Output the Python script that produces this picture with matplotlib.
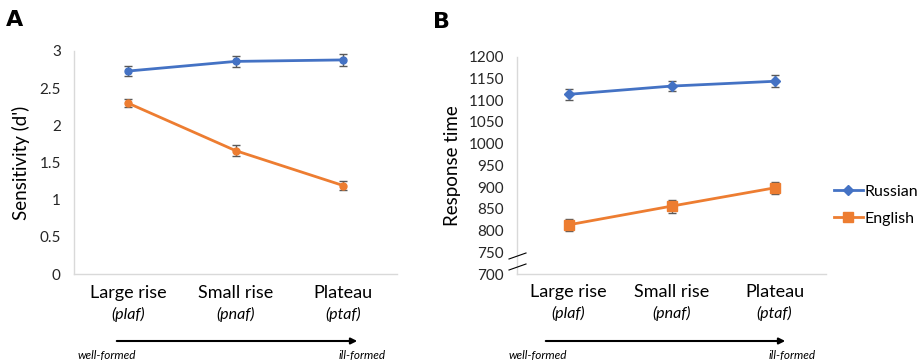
import matplotlib
matplotlib.use("Agg")
import matplotlib.pyplot as plt
from matplotlib.lines import Line2D
import numpy as np

plt.rcParams['font.family'] = ['Lato', 'DejaVu Sans']

categories = ["Large rise", "Small rise", "Plateau"]
subcats = ["(plaf)", "(pnaf)", "(ptaf)"]
series = ["Russian", "English"]

# Panel A: sensitivity d'
sens_russian = [2.73, 2.86, 2.88]
sens_russian_err = [0.07, 0.07, 0.08]
sens_english = [2.30, 1.66, 1.19]
sens_english_err = [0.06, 0.07, 0.06]

# Panel B: response time
rt_russian = [1113, 1132, 1143]
rt_russian_err = [13, 12, 14]
rt_english = [813, 856, 898]
rt_english_err = [13, 15, 13]

a_ticks = [0, 0.5, 1, 1.5, 2, 2.5, 3]
a_ticklabels = ["0", "0.5", "1", "1.5", "2", "2.5", "3"]
b_ticks = list(range(700, 1201, 50))

BLUE = "#4472C4"
ORANGE = "#ED7D31"
GRID = "#D9D9D9"
TXT = "#262626"
ERR = "#595959"

W, H = 917, 363
fig = plt.figure(figsize=(W / 100, H / 100), dpi=100)

def fx(px):
    return px / W

def fy(py):
    return 1 - py / H

axA = fig.add_axes([fx(74), fy(274), fx(397 - 74), (274 - 51) / H])
axB = fig.add_axes([fx(517), fy(274), fx(826 - 517), (274 - 56.5) / H])

x = np.arange(len(categories))

def style(ax):
    for s in ["top", "right"]:
        ax.spines[s].set_visible(False)
    for s in ["left", "bottom"]:
        ax.spines[s].set_color(GRID)
        ax.spines[s].set_linewidth(1.0)
    ax.tick_params(axis="both", length=0, colors=TXT)
    ax.set_xlim(-0.5, len(categories) - 0.5)
    ax.set_xticks(x)
    ax.set_xticklabels([])
    for i, (c, s) in enumerate(zip(categories, subcats)):
        ax.text(i, -0.085, c, transform=ax.get_xaxis_transform(), ha="center",
                va="center", fontsize=13, color="#000000")
        ax.text(i, -0.18, s, transform=ax.get_xaxis_transform(), ha="center",
                va="center", fontsize=11.5, style="italic", color="#000000")

# Panel A
style(axA)
axA.errorbar(x, sens_russian, yerr=sens_russian_err, color=BLUE, lw=2, marker="o",
             ms=5, ecolor=ERR, elinewidth=1, capsize=3, capthick=1, label=series[0])
axA.errorbar(x, sens_english, yerr=sens_english_err, color=ORANGE, lw=2, marker="o",
             ms=5, ecolor=ERR, elinewidth=1, capsize=3, capthick=1, label=series[1])
axA.set_ylim(0, 3)
axA.set_yticks(a_ticks)
axA.set_yticklabels(a_ticklabels, fontsize=11)
axA.tick_params(axis="y", pad=9.5)
axA.set_ylabel("Sensitivity (d')", fontsize=13.5, color="#000000", labelpad=7)

# Panel B
style(axB)
axB.errorbar(x, rt_russian, yerr=rt_russian_err, color=BLUE, lw=2, marker="D",
             ms=5.5, ecolor=ERR, elinewidth=1, capsize=3, capthick=1, label=series[0])
axB.errorbar(x, rt_english, yerr=rt_english_err, color=ORANGE, lw=2, marker="s",
             ms=7, ecolor=ERR, elinewidth=1, capsize=3, capthick=1, label=series[1])
axB.set_ylim(700, 1200)
axB.set_yticks(b_ticks)
axB.set_yticklabels([str(t) for t in b_ticks], fontsize=11)
axB.tick_params(axis="y", pad=9.5)
axB.set_ylabel("Response time", fontsize=13.5, color="#000000", labelpad=5.5)

# axis break marks
for y0, y1 in [(259, 253), (270, 264)]:
    fig.add_artist(Line2D([fx(509), fx(526)], [fy(y0), fy(y1)], color="#000000", lw=0.8))

handles = [Line2D([], [], color=BLUE, lw=2, marker="D", ms=5.5),
           Line2D([], [], color=ORANGE, lw=2, marker="s", ms=7)]
leg = fig.legend(handles=handles, labels=series, loc="center left",
                 bbox_to_anchor=(fx(834), fy(205)), frameon=False, fontsize=11.5,
                 handlelength=1.8, handletextpad=0.1, labelspacing=0.8,
                 borderpad=0, borderaxespad=0)

# panel letters
fig.text(fx(6), fy(20), "A", fontsize=16, fontweight="bold", va="center", ha="left",
         family="DejaVu Sans")
fig.text(fx(433), fy(22), "B", fontsize=16, fontweight="bold", va="center", ha="left",
         family="DejaVu Sans")

# arrows and annotations
for (x0, x1, wx, ix) in [(114, 360, 78, 386), (543, 788, 509, 816)]:
    fig.add_artist(matplotlib.patches.FancyArrowPatch(
        (fx(x0), fy(341)), (fx(x1), fy(341)), transform=fig.transFigure,
        arrowstyle="-|>", mutation_scale=9, color="#000000", lw=1.5))
    fig.text(fx(wx), fy(356), "well-formed", fontsize=8.5, style="italic",
             ha="left", va="center")
    fig.text(fx(ix), fy(356), "ill-formed", fontsize=8.5, style="italic",
             ha="right", va="center")

fig.savefig("out.png", dpi=100)
